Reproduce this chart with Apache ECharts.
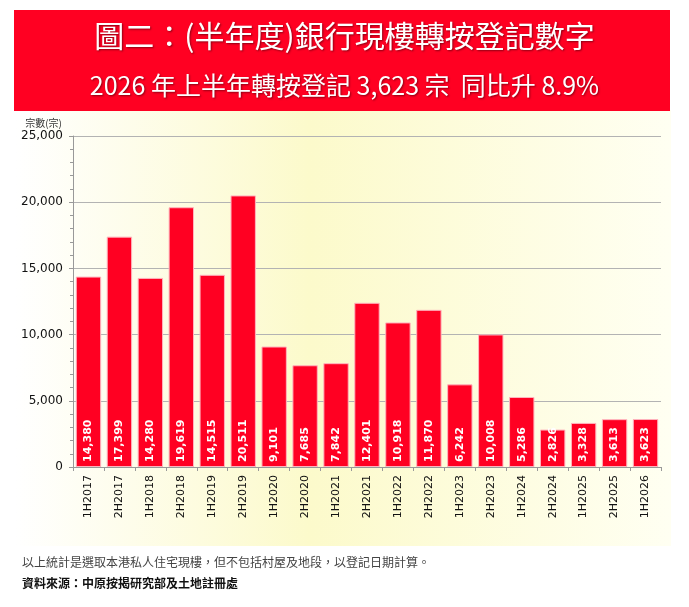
<!DOCTYPE html>
<html>
<head>
	<meta charset="utf-8">
	<title>bank resale mortgage registrations</title>
	<script src="https://cdn.jsdelivr.net/npm/echarts@6/dist/echarts.min.js"></script>
	<style>
		html, body { margin: 0; padding: 0; background: #fff; }
		#chart { width: 689px; height: 607px; }
	</style>
</head>
<body>
	<div id="chart"></div>
	<script>
		var periods = ['1H2017', '2H2017', '1H2018', '2H2018', '1H2019', '2H2019', '1H2020', '2H2020', '1H2021', '2H2021',
			'1H2022', '2H2022', '1H2023', '2H2023', '1H2024', '2H2024', '1H2025', '2H2025', '1H2026'];
		var registrations = [14380, 17399, 14280, 19619, 14515, 20511, 9101, 7685, 7842, 12401,
			10918, 11870, 6242, 10008, 5286, 2826, 3328, 3613, 3623];

		var titleMain = '圖二：(半年度)銀行現樓轉按登記數字';
		var titleSub = '2026 年上半年轉按登記 3,623 宗  同比升 8.9%';
		var note1 = '以上統計是選取本港私人住宅現樓，但不包括村屋及地段，以登記日期計算。';
		var note2 = '資料來源：中原按揭研究部及土地註冊處';

		var chart = echarts.init(document.getElementById('chart'));
		var shadow = { textShadowColor: 'rgba(0,0,0,0.45)', textShadowBlur: 2, textShadowOffsetX: 1, textShadowOffsetY: 1 };
		var option = {
			animation: false,
			textStyle: { fontFamily: 'DejaVu Sans' },
			graphic: [
				{
					type: 'rect', z: -10, silent: true,
					shape: { x: 15, y: 110, width: 656, height: 436 },
					style: {
						fill: new echarts.graphic.LinearGradient(0, 0, 1, 0, [
							{ offset: 0, color: '#ffffff' },
							{ offset: 0.45, color: '#fcfacb' },
							{ offset: 1, color: '#fffff2' }
						])
					}
				},
				{
					type: 'rect', z: -5, silent: true,
					shape: { x: 14, y: 10, width: 656, height: 101 },
					style: { fill: '#ff0022' }
				},
				{
					type: 'text', left: 'center', top: 21,
					style: Object.assign({ text: titleMain, fill: '#fff', font: '30px "Noto Sans CJK TC"' }, shadow)
				},
				{
					type: 'text', left: 'center', top: 73,
					style: Object.assign({ text: titleSub, fill: '#fff', font: '25px "Noto Sans CJK TC"' }, shadow)
				},
				{
					type: 'text', left: 22, top: 556,
					style: { text: note1, fill: '#444', font: '12px "Noto Sans CJK TC"' }
				},
				{
					type: 'text', left: 22, top: 577,
					style: { text: note2, fill: '#111', font: 'bold 12px "Noto Sans CJK TC"' }
				}
			],
			grid: { left: 73, right: 28, top: 136, bottom: 140 },
			xAxis: {
				type: 'category',
				data: periods,
				axisLine: { lineStyle: { color: '#999' } },
				axisTick: { show: true, length: 4, lineStyle: { color: '#999' } },
				axisLabel: { rotate: 90, color: '#111', fontSize: 11, margin: 8 }
			},
			yAxis: {
				type: 'value',
				min: 0, max: 25000, interval: 5000,
				name: '宗數(宗)',
				nameLocation: 'end',
				nameGap: 8,
				nameTextStyle: { fontSize: 10, color: '#333', fontFamily: 'Noto Sans CJK TC', align: 'right', padding: [0, 11, 0, 0] },
				axisLine: { show: true, lineStyle: { color: '#999' } },
				axisTick: { show: true, length: 4, lineStyle: { color: '#999' } },
				minorTick: { show: true, splitNumber: 5, length: 3, lineStyle: { color: '#999' } },
				splitLine: { lineStyle: { color: '#b3b3b3' } },
				axisLabel: {
					color: '#111', fontSize: 12, margin: 10,
					formatter: function (v) { return v.toLocaleString('en-US'); }
				}
			},
			series: [{
				type: 'bar',
				data: registrations,
				barCategoryGap: '18%',
				itemStyle: { color: '#ff0022', borderColor: '#ffb3bd', borderWidth: 1 },
				label: {
					show: true,
					position: 'insideBottom',
					rotate: 90,
					align: 'left',
					verticalAlign: 'middle',
					distance: 5,
					color: '#fff',
					fontSize: 11,
					fontWeight: 'bold',
					formatter: function (p) { return p.value.toLocaleString('en-US'); }
				}
			}]
		};
		chart.setOption(option);
	</script>
</body>
</html>
